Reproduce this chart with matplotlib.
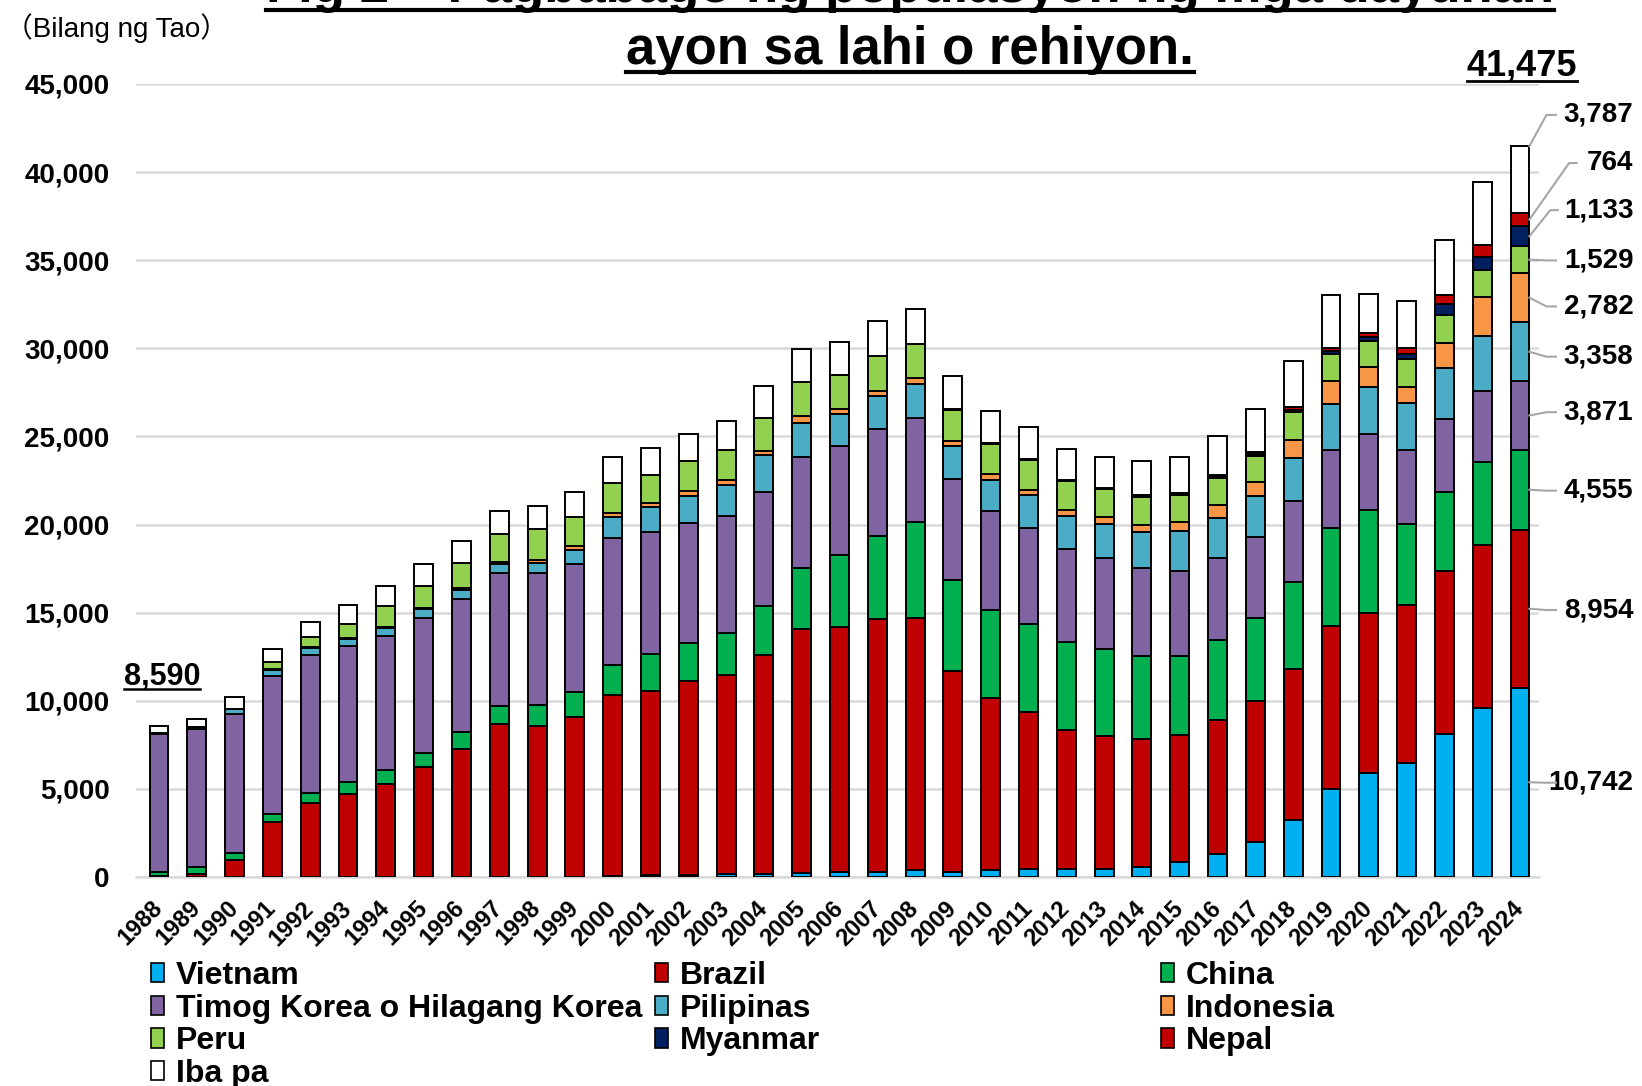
import matplotlib
matplotlib.use("Agg")
import matplotlib.pyplot as plt
from matplotlib.patches import Patch
from matplotlib.lines import Line2D

plt.rcParams["font.family"] = ["Liberation Sans", "Noto Sans CJK JP", "DejaVu Sans"]

# DATA
years = list(range(1988, 2025))

vietnam = [10, 10, 10, 10, 10, 10, 10, 10, 10, 20, 20, 20, 60, 95, 130, 170, 175, 240, 300, 300,
           370, 284, 379, 436, 474, 474, 568, 852, 1326, 2008, 3220, 5000, 5879, 6455, 8104, 9560, 10742]
brazil = [30, 130, 940, 3080, 4180, 4670, 5240, 6220, 7260, 8670, 8520, 9030, 10284, 10477, 10973,
          11275, 12405, 13837, 13907, 14319, 14336, 11402, 9754, 8939, 7860, 7519, 7235, 7198, 7576,
          7973, 8561, 9230, 9092, 8956, 9285, 9284, 8954]
china = [250, 400, 420, 510, 590, 680, 800, 810, 930, 990, 1200, 1420, 1670, 2088, 2183, 2373, 2820,
         3470, 4078, 4728, 5422, 5171, 5019, 5000, 4981, 4924, 4735, 4507, 4545, 4735, 4981, 5548,
         5851, 4615, 4477, 4725, 4555]
korea = [7800, 7840, 7880, 7820, 7820, 7750, 7630, 7670, 7590, 7550, 7500, 7270, 7194, 6889, 6795,
         6643, 6464, 6268, 6160, 6052, 5900, 5720, 5587, 5436, 5284, 5171, 5019, 4811, 4679, 4565,
         4583, 4478, 4313, 4175, 4120, 3983, 3871]
philippines = [100, 150, 300, 340, 400, 420, 440, 470, 490, 550, 600, 820, 1234, 1424, 1518, 1803,
               2060, 1952, 1800, 1887, 1952, 1856, 1799, 1837, 1875, 1932, 2008, 2235, 2235, 2311,
               2425, 2610, 2692, 2719, 2885, 3159, 3358]
indonesia = [0, 0, 0, 30, 40, 50, 60, 70, 90, 100, 150, 230, 190, 247, 304, 285, 260, 369, 282, 304,
             325, 284, 303, 322, 322, 378, 379, 511, 719, 795, 1041, 1291, 1099, 907, 1429, 2198, 2782]
peru = [0, 0, 0, 380, 560, 760, 1200, 1280, 1460, 1560, 1750, 1630, 1727, 1613, 1689, 1688, 1887,
        1952, 1952, 1952, 1952, 1799, 1726, 1705, 1648, 1610, 1610, 1553, 1553, 1515, 1553, 1538,
        1511, 1593, 1565, 1511, 1529]
myanmar = [0] * 21 + [10, 15, 20, 25, 30, 40, 50, 60, 80, 110, 150, 200, 270, 632, 769, 1133]
nepal = [0] * 21 + [20, 25, 30, 40, 50, 60, 80, 100, 130, 190, 170, 213, 335, 549, 659, 764]
other = [400, 410, 660, 780, 850, 1080, 1150, 1210, 1230, 1330, 1290, 1405, 1461, 1518, 1557, 1633,
         1779, 1887, 1887, 2017, 1953, 1871, 1843, 1825, 1772, 1739, 1926, 2030, 2246, 2442, 2604,
         3004, 2251, 2664, 3105, 3571, 3787]

labels = ["Vietnam", "Brazil", "China", "Timog Korea o Hilagang Korea", "Pilipinas",
          "Indonesia", "Peru", "Myanmar", "Nepal", "Iba pa"]
series = [vietnam, brazil, china, korea, philippines, indonesia, peru, myanmar, nepal, other]
colors = ["#00B0F0", "#C00000", "#00B050", "#8064A2", "#4BACC6",
          "#F79646", "#92D050", "#002060", "#C00000", "#FFFFFF"]

# y positions (data units) of the 2024 side labels, bottom to top
side_label_y = [5346, 15147, 21919, 26374, 29522, 32373, 34987, 37838, 40511, 43243]

fig = plt.figure(figsize=(16.42, 10.86), dpi=100)
ax = fig.add_axes([0.0828, 0.1925, 0.8544, 0.7302])

x = list(range(len(years)))
bottom = [0] * len(years)
for vals, lab, col in zip(series, labels, colors):
    ax.bar(x, vals, 0.5, bottom=bottom, color=col, edgecolor="black", linewidth=1.4,
           label=lab, zorder=3)
    bottom = [b + v for b, v in zip(bottom, vals)]
totals = bottom

ax.set_xlim(-0.61, 36.5)
ax.set_ylim(0, 45000)
ax.set_yticks(range(0, 45001, 5000))
ax.set_yticklabels([f"{v:,}" for v in range(0, 45001, 5000)], fontsize=20, fontweight="bold")
ax.set_xticks(x)
ax.set_xticklabels([str(y) for y in years], rotation=45, ha="right", va="center",
                   rotation_mode="anchor", fontsize=17, fontweight="bold")
ax.tick_params(axis="y", length=0, pad=19)
ax.tick_params(axis="x", length=0, pad=20)
ax.yaxis.grid(True, color="#d9d9d9", linewidth=1.8, zorder=0)
ax.set_axisbelow(True)
for s in ["left", "right", "top"]:
    ax.spines[s].set_visible(False)
ax.spines["bottom"].set_color("#d9d9d9")
ax.spines["bottom"].set_linewidth(1.8)

# side labels for the last year
last = len(years) - 1
cum = 0
xr = last + 0.25
for i, vals in enumerate(series):
    v = vals[last]
    mid = cum + v / 2 if i < len(series) - 1 else cum + v
    cum += v
    ly = side_label_y[i]
    if i in (7, 8):
        xs = [xr, 37.3 if i == 8 else 36.8, 37.5 if i == 8 else 37.0]
    else:
        xs = [xr, 36.7, 36.95]
    ax.plot(xs, [mid, ly, ly], color="#a6a6a6", linewidth=1.5, clip_on=False, zorder=4)
    ax.text(39.0, ly, f"{v:,}", ha="right", va="center", fontsize=20, fontweight="bold",
            clip_on=False)

# totals for first and last year
t_first = ax.text(-0.93, 10897, f"{totals[0]:,}", ha="left", va="baseline", fontsize=22,
                  fontweight="bold")
t_last = ax.text(36.05, 45460, f"{totals[-1]:,}", ha="center", va="baseline", fontsize=26,
                 fontweight="bold", clip_on=False)

# titles
fig.text(0.003, 0.974, "（Bilang ng Tao）", ha="left", va="center", fontsize=20)
t1 = fig.text(0.554, 0.998, "Fig 2 \u2013 Pagbabago ng populasyon ng mga dayuhan", ha="center",
              va="baseline", fontsize=38, fontweight="bold")
t2 = fig.text(0.554, 0.941, "ayon sa lahi o rehiyon.", ha="center", va="baseline", fontsize=38,
              fontweight="bold")

# legend in three columns
handles = [Patch(facecolor=c, edgecolor="black", linewidth=1.2) for c in colors]
cols = [[0, 3, 6, 9], [1, 4, 7], [2, 5, 8]]
col_x = [0.092, 0.399, 0.707]
for idx, cx in zip(cols, col_x):
    fig.legend([handles[i] for i in idx], [labels[i] for i in idx], loc="upper left",
               bbox_to_anchor=(cx, 0.115), frameon=False,
               prop={"weight": "bold", "size": 23}, handlelength=0.4, handleheight=0.55,
               handletextpad=0.38, labelspacing=0.08, borderpad=0, borderaxespad=0)

# underline helper
fig.canvas.draw()
renderer = fig.canvas.get_renderer()


def underline(t, drop, lw):
    bb = t.get_window_extent(renderer).transformed(fig.transFigure.inverted())
    xt, yt = t.get_position()
    yb = t.get_transform().transform((xt, yt))
    yb = fig.transFigure.inverted().transform(yb)[1]
    fig.add_artist(Line2D([bb.x0, bb.x1], [yb - drop, yb - drop], color="black",
                          linewidth=lw, transform=fig.transFigure))


underline(t1, 0.007, 3)
underline(t2, 0.007, 3)
underline(t_first, 0.004, 1.8)
underline(t_last, 0.005, 2)

fig.savefig("out.png", dpi=100)
